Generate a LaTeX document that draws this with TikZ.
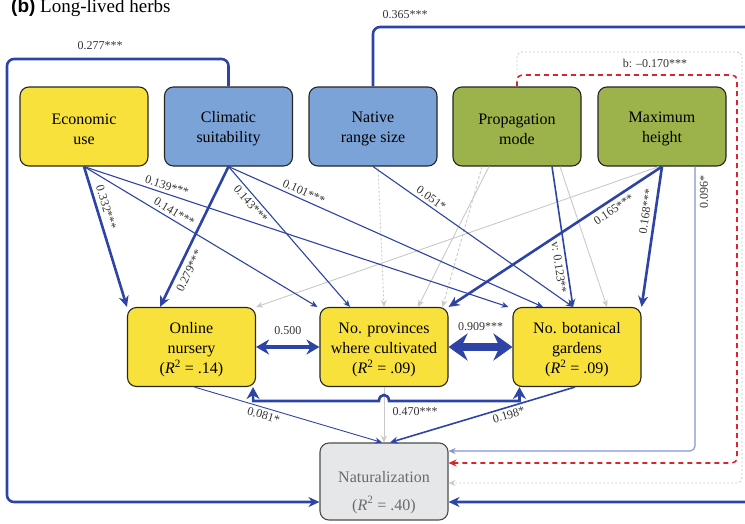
\documentclass[tikz,border=0pt]{standalone}
\usepackage{fontspec}
\setmainfont{Liberation Serif}
\newfontfamily\titlesans{Liberation Sans}
\usetikzlibrary{arrows.meta,calc}
\definecolor{bl}{HTML}{2E43A6}
\definecolor{lbl}{HTML}{8392D2}
\definecolor{yel}{HTML}{F9E13C}
\definecolor{blu}{HTML}{7BA3D7}
\definecolor{grn}{HTML}{9CB24B}
\definecolor{natf}{HTML}{E6E7E9}
\definecolor{redd}{HTML}{D8262E}
\definecolor{gryl}{HTML}{C9C9C9}
\definecolor{nattxt}{HTML}{6A6A6A}
\newcommand{\toplift}{\rule{0pt}{16pt}}
\begin{document}
\begin{tikzpicture}[x=1pt,y=-1pt,
  box/.style={draw=black!85, line width=1.1pt, rounded corners=9pt, minimum width=128pt, minimum height=79pt, align=center, inner sep=0pt, font=\fontsize{16}{20}\selectfont},
  lab/.style={font=\fontsize{12}{14}\selectfont, text=black!80, inner sep=1pt},
  thinb/.style={draw=bl, line width=1.1pt, -{Stealth[length=7pt,width=6pt]}},
  medb/.style={draw=bl, line width=1.6pt, -{Stealth[length=8pt,width=7pt]}},
  thickb/.style={draw=bl, line width=2.6pt, -{Stealth[length=11pt,width=10pt]}},
  grayl/.style={draw=gryl, line width=0.9pt, -{Stealth[length=7pt,width=6pt]}},
  graydash/.style={draw=gryl, line width=0.9pt, dash pattern=on 3pt off 2pt, -{Stealth[length=7pt,width=6pt]}},
  reddash/.style={draw=redd, line width=1.6pt, dash pattern=on 5pt off 4pt, -{Stealth[length=8pt,width=7pt]}},
  graydot/.style={draw=gryl, line width=0.9pt, dash pattern=on 2pt off 2pt, -{Stealth[length=7pt,width=6pt]}},
  thinlb/.style={draw=lbl, line width=1.1pt, -{Stealth[length=7pt,width=6pt]}}
]
\useasboundingbox (0,0) rectangle (745,523);

% title
\node[anchor=base west, inner sep=0pt, font=\fontsize{19}{22}\selectfont] (title) at (11,12) {{\titlesans\bfseries (b)} Long-lived herbs};

% top boxes
\node[box, fill=yel] (econ) at (84,126.5) {\toplift Economic\\use};
\node[box, fill=blu] (clim) at (228.5,126.5) {\toplift Climatic\\suitability};
\node[box, fill=blu] (native) at (373,126.5) {\toplift Native\\range size};
\node[box, fill=grn] (prop) at (517,126.5) {\toplift Propagation\\mode};
\node[box, fill=grn] (maxh) at (662,126.5) {\toplift Maximum\\height};

% middle boxes
\node[box, fill=yel] (online) at (191.5,347) {\toplift Online\\nursery\\(\textit{R}\textsuperscript{2} = .14)};
\node[box, fill=yel] (prov) at (384,347) {\toplift No. provinces\\where cultivated\\(\textit{R}\textsuperscript{2} = .09)};
\node[box, fill=yel] (bot) at (577,347) {\toplift No. botanical\\gardens\\(\textit{R}\textsuperscript{2} = .09)};

% naturalization
\node[box, fill=natf, draw=black!70, minimum height=77pt] (nat) at (384,481.5) {};
\node[font=\fontsize{16}{20}\selectfont, text=nattxt] (natt) at (384,477) {Naturalization};
\node[font=\fontsize{16}{20}\selectfont, text=nattxt] (natr) at (384,505) {(\textit{R}\textsuperscript{2} = .40)};

% gray paths (behind)
\draw[graydot] ([xshift=5pt]native.south) -- (prov.north);
\draw[graydash] ([xshift=-35pt]prop.south) -- ([xshift=-6pt]prov.north east);
\draw[grayl] ([xshift=-28pt]prop.south) -- ([xshift=34pt]prov.north);
\draw[grayl] ([xshift=43pt]prop.south) -- ([xshift=30pt]bot.north);
\draw[grayl] ([xshift=-3pt]maxh.south) -- (online.north east);
\draw[grayl] (prov.south) -- (nat.north);

% long routed paths
\draw[graydot, rounded corners=5pt] (prop.north) |- (742,52) |- ([yshift=-1.5pt]nat.east);
\draw[reddash, rounded corners=5pt] (prop.north) |- (737,75) |- ([yshift=18.5pt]nat.east);
\node[lab] (lb) at (655,63) {b: \textendash0.170***};
\draw[thickb, rounded corners=7pt] (clim.north) |- (7,59) |- ([yshift=-20.5pt]nat.west);
\node[lab] (l277) at (100,46) {0.277***};
\draw[thickb, rounded corners=7pt] (native.north) |- (752,27) |- ([yshift=-20.5pt]nat.east);
\node[lab] (l365) at (405,15) {0.365***};
\draw[thinlb, rounded corners=5pt] ([xshift=33pt]maxh.south) |- ([yshift=30.5pt]nat.east);
\node[lab, rotate=90] (l096) at (704,192) {0.096*};

% from economic use
\draw[thickb] (econ.south) -- node[lab, sloped, pos=0.31, above=3pt] {0.332***} (online.north west);
\draw[thinb] (econ.south) -- node[lab, sloped, pos=0.19, above=2pt] {0.139***} ([xshift=-4pt]bot.north west);
\draw[thinb] (econ.south) -- node[lab, sloped, pos=0.37, above=2pt] {0.141***} ([xshift=-2pt]prov.north west);

% from climatic suitability
\draw[thickb] (clim.south) -- node[lab, sloped, pos=0.71, below=4pt] {0.279***} ([xshift=-31.5pt]online.north);
\draw[thinb] (clim.south) -- node[lab, sloped, pos=0.23, below=2pt] {0.143***} ([xshift=-34pt]prov.north);
\draw[thinb] (clim.south) -- node[lab, sloped, pos=0.23, above=2pt] {0.101***} ([xshift=-34pt]bot.north);

% from native range size
\draw[thinb] (native.south) -- node[lab, sloped, pos=0.27, above=2pt] {0.051*} ([xshift=-4pt]bot.north);

% from propagation mode
\draw[medb] ([xshift=35pt]prop.south) -- node[lab, sloped, pos=0.71, below=2pt] {v: 0.123**} ([xshift=-4pt]bot.north);

% from maximum height
\draw[thickb] (maxh.south) -- node[lab, sloped, pos=0.25, below=3pt] {0.165***} (prov.north east);
\draw[thickb] (maxh.south) -- node[lab, sloped, pos=0.33, above=3pt] {0.168***} (bot.north east);

% middle level
\draw[bl, line width=4pt, {Stealth[length=13pt,width=15pt]}-{Stealth[length=13pt,width=15pt]}] (online.east) -- node[lab, above=9pt] {0.500} (prov.west);
\draw[bl, line width=8pt, {Stealth[length=19pt,width=27pt]}-{Stealth[length=19pt,width=27pt]}] (prov.east) -- node[lab, above=11pt] {0.909***} (bot.west);

\coordinate (h) at (0,401);
\coordinate (oa) at ([xshift=-3pt]online.south east);
\coordinate (ba) at ([xshift=7pt]bot.south west);
\draw[bl, line width=2.6pt, {Stealth[length=12pt,width=13pt]}-{Stealth[length=12pt,width=13pt]}] (oa) -- (oa |- h) -- (379,401) .. controls (379,393) and (389,393) .. (389,401) -- (ba |- h) -- (ba);
\node[lab] (l470) at (415,412) {0.470***};

\draw[thinb, line width=0.9pt] ([xshift=3pt]online.south) -- node[lab, sloped, pos=0.38, below=2pt] {0.081*} ([xshift=-2pt]nat.north);
\draw[medb] ([xshift=-2pt]bot.south) -- node[lab, sloped, pos=0.37, below=2pt] {0.198*} ([xshift=6pt]nat.north);
\end{tikzpicture}
\end{document}
